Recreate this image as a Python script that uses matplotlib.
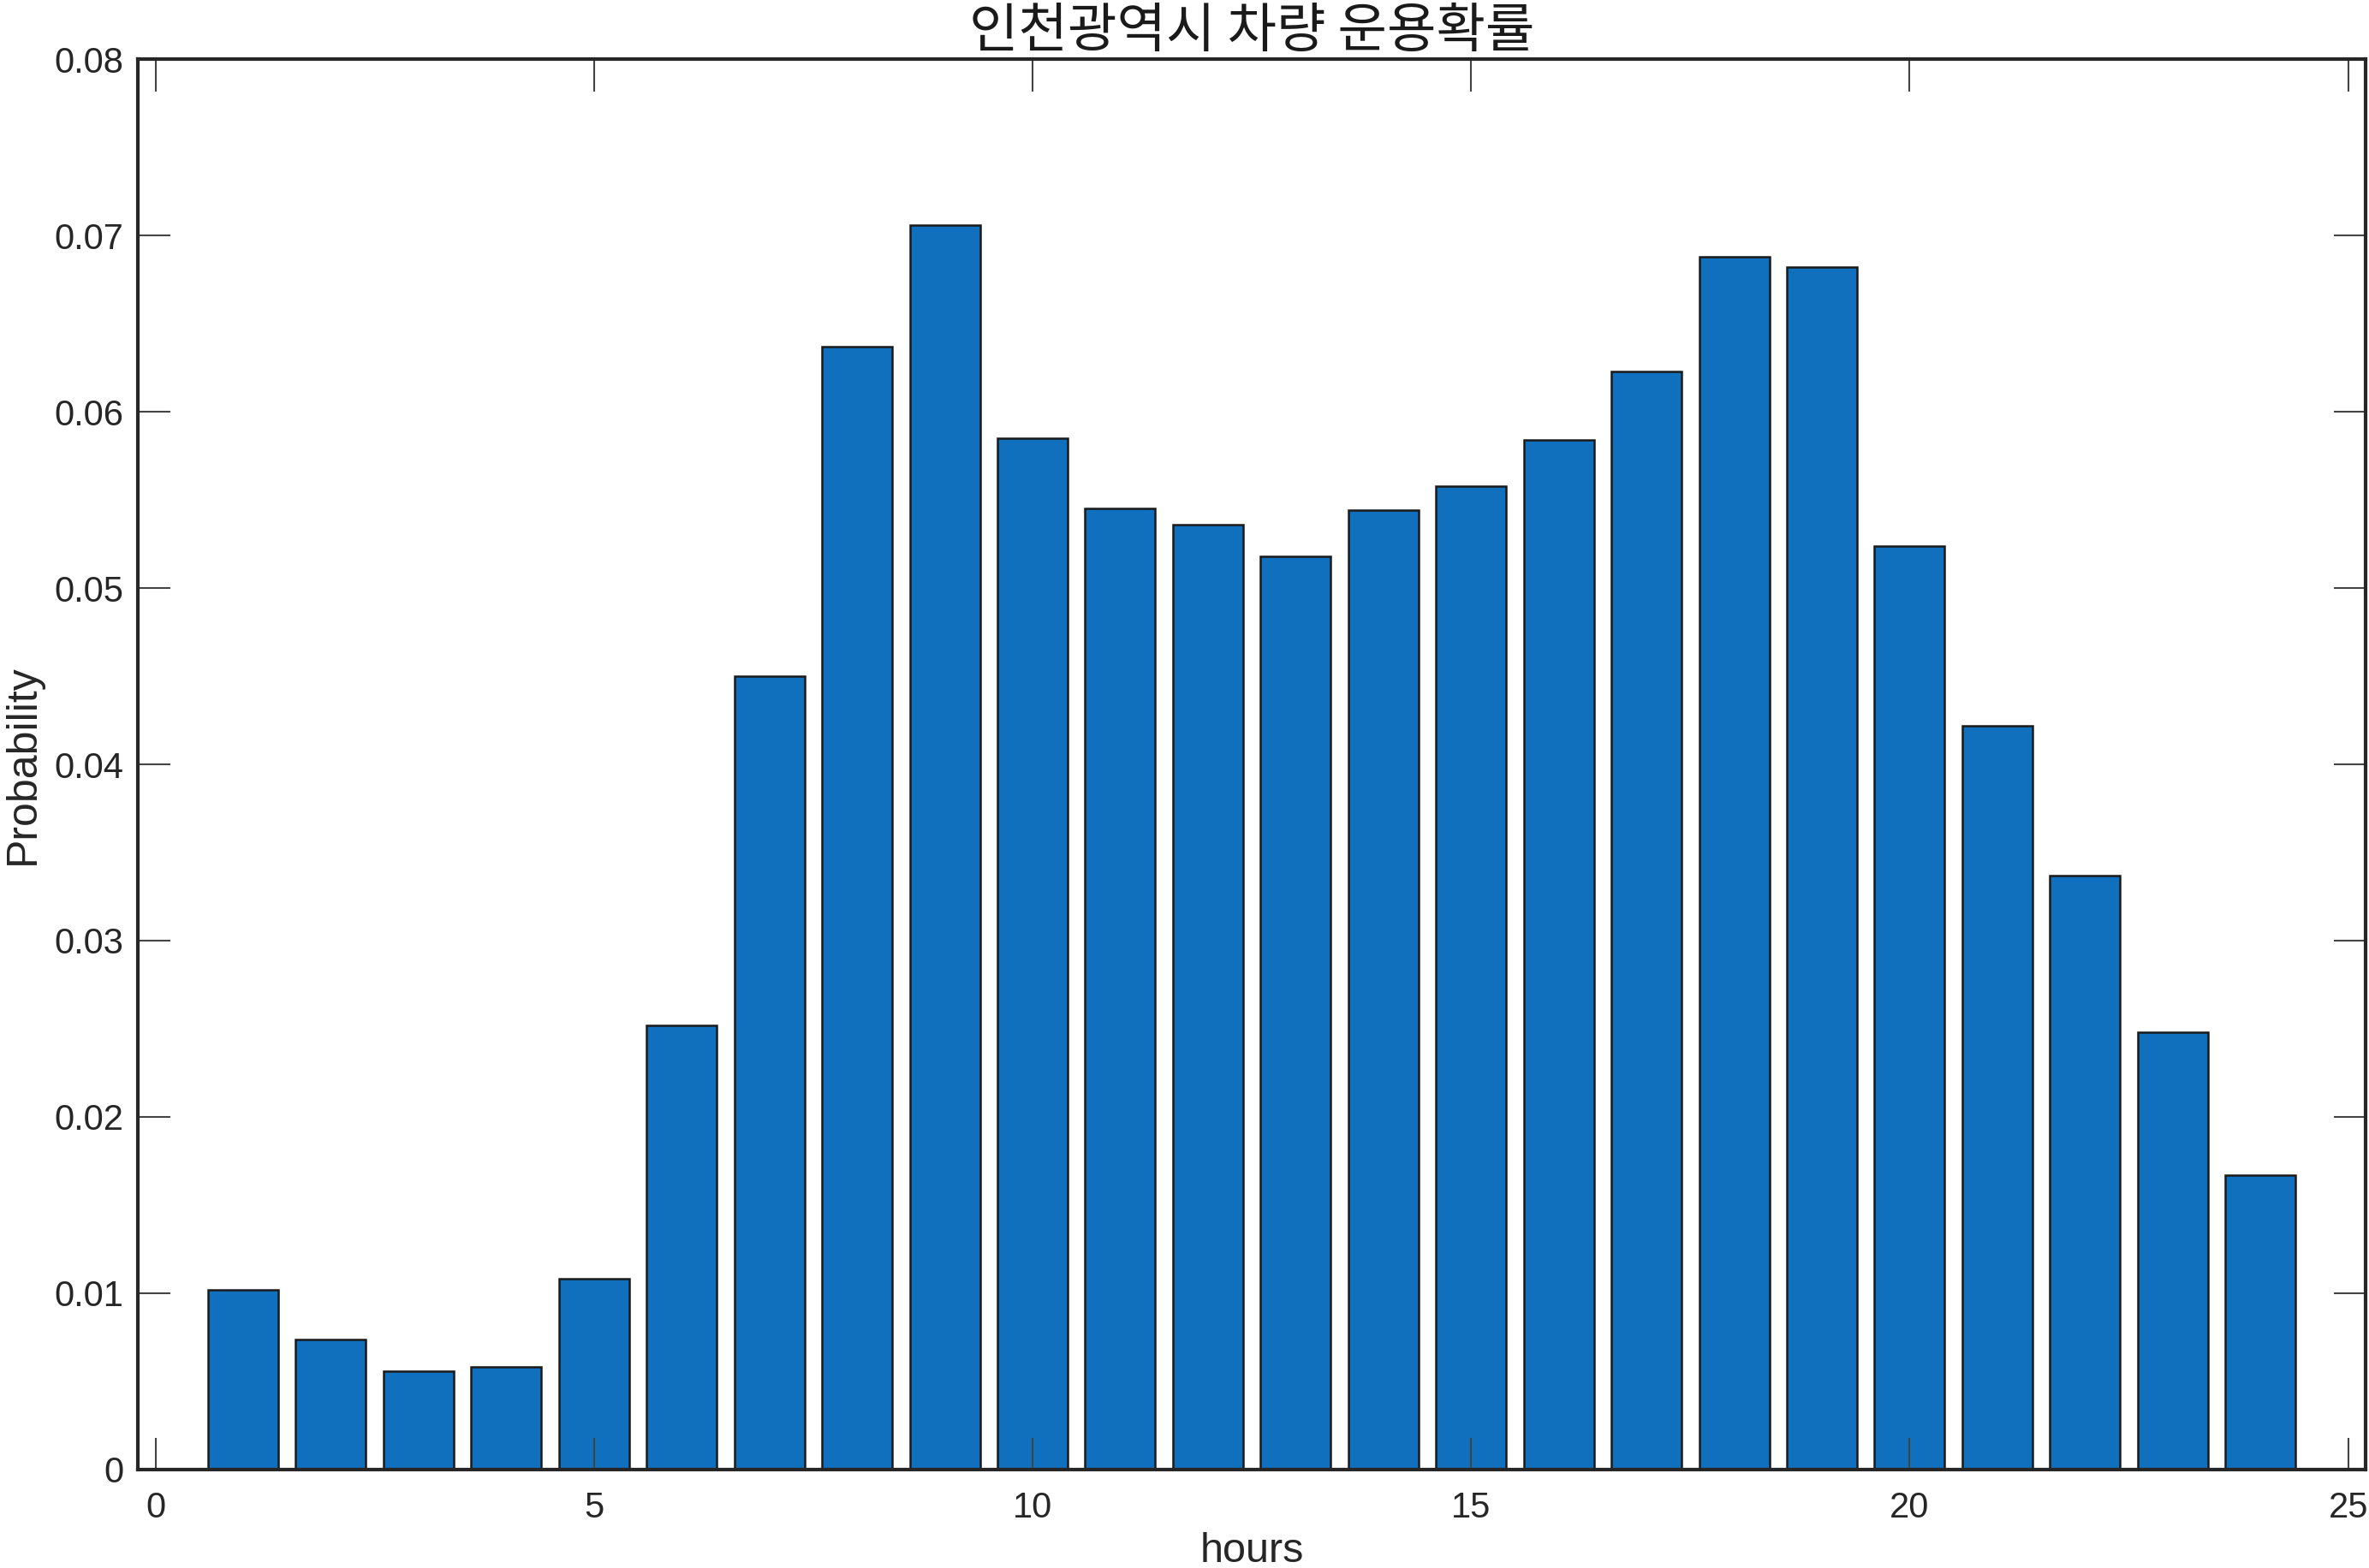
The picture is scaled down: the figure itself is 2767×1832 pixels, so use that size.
import matplotlib.pyplot as plt

plt.rcParams['font.family'] = ['Liberation Sans', 'Noto Sans CJK KR', 'DejaVu Sans']

# 시간대별 운용확률
hours = list(range(1, 25))
prob = [0.0102, 0.0074, 0.0056, 0.0058, 0.0108, 0.0252, 0.0450, 0.0637,
        0.0706, 0.0585, 0.0545, 0.0536, 0.0518, 0.0544, 0.0558, 0.0584,
        0.0623, 0.0688, 0.0682, 0.0524, 0.0422, 0.0337, 0.0248, 0.0167]
xticks = [0, 5, 10, 15, 20, 25]
yticks = [0, 0.01, 0.02, 0.03, 0.04, 0.05, 0.06, 0.07, 0.08]
ytick_labels = ['0', '0.01', '0.02', '0.03', '0.04', '0.05', '0.06', '0.07', '0.08']

fig = plt.figure(figsize=(27.67, 18.32), dpi=100)
ax = fig.add_axes([0.0582, 0.0628, 0.9404, 0.8995])

ax.bar(hours, prob, width=0.8, color='#1170BE', edgecolor='#1a1a1a', linewidth=1.8)

ax.set_xlim(-0.2, 25.2)
ax.set_ylim(0, 0.08)
ax.set_xticks(xticks)
ax.set_yticks(yticks)
ax.set_yticklabels(ytick_labels)

for s in ax.spines.values():
    s.set_linewidth(3)
    s.set_color('#262626')

ax.tick_params(axis='both', direction='in', length=27, width=1.5, color='#444444',
               labelsize=30, labelcolor='#262626', top=True, right=True)
ax.tick_params(axis='x', pad=18)
ax.tick_params(axis='y', pad=12)

ax.set_xlabel('hours', fontsize=35, color='#262626', labelpad=6)
ax.set_ylabel('Probability', fontsize=36, color='#262626', labelpad=10)
ax.set_title('인천광역시 차량 운용확률', fontsize=45, color='#1a1a1a', pad=10,
             family=['Noto Sans CJK KR', 'DejaVu Sans'])

fig.savefig('out.png', dpi=100)
